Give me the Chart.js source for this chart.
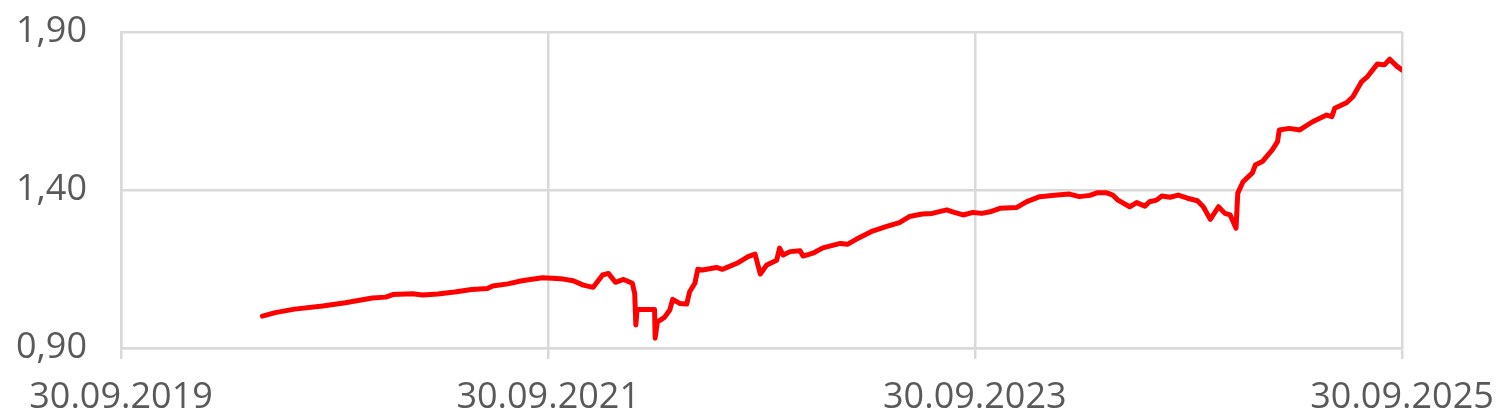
<!DOCTYPE html>
<html>
<head>
<meta charset="utf-8">
<script src="https://cdn.jsdelivr.net/npm/chart.js@4/dist/chart.umd.min.js"></script>
<style>
  html, body { margin: 0; padding: 0; background: #ffffff; }
  #wrap { width: 1508px; height: 420px; position: relative; }
</style>
</head>
<body>
<div id="wrap"><canvas id="c" width="1508" height="420"></canvas></div>
<script>
// ---- data ----
const dates = [
  "2020-05-29","2020-06-20","2020-07-23","2020-09-09","2020-10-18","2020-12-03","2020-12-26",
  "2021-01-07","2021-02-10","2021-02-27","2021-03-25","2021-04-23","2021-05-22","2021-06-18",
  "2021-06-27","2021-07-23","2021-08-16","2021-09-20","2021-10-07","2021-10-26","2021-11-12",
  "2021-11-29","2021-12-16","2022-01-01","2022-01-11","2022-01-23","2022-02-06","2022-02-21",
  "2022-02-25","2022-02-27","2022-03-01","2022-03-31","2022-04-01","2022-04-05","2022-04-17",
  "2022-04-26","2022-05-01","2022-05-13","2022-05-25","2022-05-30","2022-06-08","2022-06-13",
  "2022-06-21","2022-07-15","2022-07-25","2022-08-19","2022-09-07","2022-09-19","2022-09-28",
  "2022-10-09","2022-10-26","2022-10-31","2022-11-06","2022-11-18","2022-12-05","2022-12-10",
  "2022-12-27","2023-01-13","2023-02-12","2023-02-24","2023-03-11","2023-04-08","2023-05-01",
  "2023-05-24","2023-06-10","2023-07-02","2023-07-19","2023-08-13","2023-08-23","2023-09-10",
  "2023-09-27","2023-10-12","2023-10-26","2023-11-12","2023-12-11","2023-12-28","2024-01-19",
  "2024-02-18","2024-03-10","2024-03-27","2024-04-14","2024-04-26","2024-05-13","2024-05-23",
  "2024-06-01","2024-06-21","2024-07-03","2024-07-17","2024-07-25","2024-08-06","2024-08-15",
  "2024-08-29","2024-09-12","2024-09-28","2024-10-15","2024-10-25","2024-11-06","2024-11-20",
  "2024-12-01","2024-12-10","2024-12-20","2024-12-23","2025-01-01","2025-01-17","2025-01-22",
  "2025-02-03","2025-02-20","2025-03-01","2025-03-04","2025-03-21","2025-04-08","2025-04-30",
  "2025-05-24","2025-06-02","2025-06-07","2025-06-27","2025-07-08","2025-07-23","2025-08-02",
  "2025-08-19","2025-08-31","2025-09-09","2025-09-21","2025-09-30"
];
const values = [
  1.001,1.012,1.023,1.033,1.043,1.058,1.061,
  1.069,1.072,1.068,1.071,1.077,1.085,1.088,
  1.096,1.103,1.113,1.122,1.121,1.118,1.113,
  1.099,1.092,1.131,1.136,1.108,1.117,1.105,
  1.073,0.973,1.022,1.022,0.931,0.983,0.997,
  1.020,1.054,1.041,1.039,1.078,1.105,1.149,
  1.147,1.155,1.149,1.168,1.189,1.197,1.134,
  1.163,1.178,1.216,1.194,1.205,1.208,1.191,
  1.200,1.217,1.231,1.228,1.244,1.270,1.284,
  1.297,1.316,1.324,1.326,1.337,1.331,1.321,
  1.329,1.326,1.331,1.342,1.345,1.363,1.379,
  1.384,1.387,1.379,1.383,1.391,1.391,1.384,
  1.368,1.347,1.360,1.349,1.363,1.368,1.381,
  1.377,1.384,1.374,1.366,1.347,1.307,1.347,
  1.326,1.321,1.279,1.390,1.426,1.454,1.479,
  1.490,1.527,1.553,1.590,1.595,1.590,1.616,
  1.637,1.632,1.659,1.676,1.695,1.743,1.759,
  1.799,1.796,1.814,1.792,1.780
];
const xTickDates = ["2019-09-30","2021-09-30","2023-09-30","2025-09-30"];
const yTicks = [0.90, 1.40, 1.90];

// ---- helpers ----
function toTs(s) { const p = s.split("-").map(Number); return Date.UTC(p[0], p[1]-1, p[2]); }
function fmtDate(ts) {
  const d = new Date(ts);
  const dd = String(d.getUTCDate()).padStart(2, "0");
  const mm = String(d.getUTCMonth()+1).padStart(2, "0");
  return dd + "." + mm + "." + d.getUTCFullYear();
}
const points = dates.map((d, i) => ({ x: toTs(d), y: values[i] }));
const xTicks = xTickDates.map(toTs);

const gridColor = "#d9d9d9";
const textColor = "#595959";
const fontFamily = "'Open Sans', 'DejaVu Sans', sans-serif";

new Chart(document.getElementById("c"), {
  type: "line",
  data: {
    datasets: [{
      data: points,
      borderColor: "#ff0000",
      backgroundColor: "#ff0000",
      borderWidth: 5,
      pointRadius: 0,
      tension: 0,
      fill: false,
      borderJoinStyle: "round",
      borderCapStyle: "round"
    }]
  },
  options: {
    responsive: false,
    animation: false,
    layout: { padding: { left: 0, right: 106, top: 32, bottom: 0 } },
    plugins: { legend: { display: false }, tooltip: { enabled: false } },
    scales: {
      x: {
        type: "linear",
        min: xTicks[0],
        max: xTicks[xTicks.length - 1],
        afterBuildTicks: (s) => { s.ticks = xTicks.map(v => ({ value: v })); },
        afterFit: (s) => { s.height = 72; s.paddingLeft = 0; s.paddingRight = 0; },
        grid: { color: gridColor, lineWidth: 2.5, drawTicks: true, tickLength: 11, tickColor: gridColor },
        border: { display: true, color: gridColor, width: 2.5 },
        ticks: {
          autoSkip: false, maxRotation: 0, minRotation: 0, padding: 17,
          color: textColor, font: { family: fontFamily, size: 36 },
          callback: (v) => fmtDate(v)
        }
      },
      y: {
        type: "linear",
        min: yTicks[0],
        max: yTicks[yTicks.length - 1],
        afterBuildTicks: (s) => { s.ticks = yTicks.map(v => ({ value: v })); },
        afterFit: (s) => { s.width = 121; s.paddingTop = 0; s.paddingBottom = 0; },
        grid: { color: gridColor, lineWidth: 2.5, drawTicks: false },
        border: { display: true, color: gridColor, width: 2.5 },
        ticks: {
          padding: 34, color: textColor, font: { family: fontFamily, size: 36 },
          callback: (v) => Number(v).toFixed(2).replace(".", ",")
        }
      }
    }
  }
});
</script>
</body>
</html>
